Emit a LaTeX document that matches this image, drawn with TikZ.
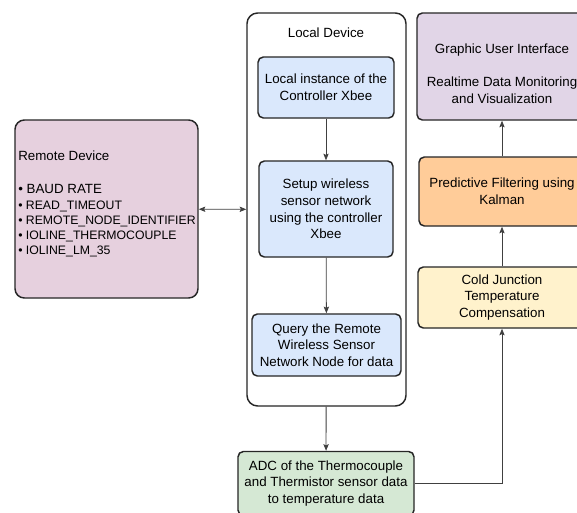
\documentclass[tikz,border=0pt]{standalone}
\usepackage{fontspec}
\setmainfont{Liberation Sans}
\usetikzlibrary{positioning, arrows.meta, calc}

\begin{document}
\begin{tikzpicture}[x=0.75pt, y=-0.75pt,
  font=\fontsize{10}{12.5}\selectfont,
  blk/.style={draw=black!85, line width=1.1pt, rounded corners=4pt, align=center,
    inner sep=0pt},
  flow/.style={draw=black!75, line width=0.6pt, -{Stealth[length=5pt, width=4pt, inset=1pt]}}]

\definecolor{cRemote}{HTML}{E6D0DE}
\definecolor{cLocal}{HTML}{DAE8FC}
\definecolor{cAdc}{HTML}{D5E8D4}
\definecolor{cGui}{HTML}{E1D5E7}
\definecolor{cPred}{HTML}{FFCC99}
\definecolor{cCold}{HTML}{FFF2CC}

\clip (0,0) rectangle (577,512);
\fill[white] (0,0) rectangle (577,512);

% ===== remote device =====
\node[blk, fill=cRemote, rounded corners=7pt, minimum width=183*0.75pt,
  minimum height=178*0.75pt] (remote) at (106.5,209) {};
\node[anchor=north west, align=left, inner sep=0pt] (remtxt) at (18,150.5)
  {Remote Device\\[12.4pt]
   • BAUD RATE\\[-0.4pt]
   {\fontsize{9.2}{11}\selectfont • READ\_TIMEOUT}\\[-1.3pt]
   {\fontsize{9.2}{11}\selectfont • REMOTE\_NODE\_IDENTIFIER}\\[-1.3pt]
   {\fontsize{9.2}{11}\selectfont • IOLINE\_THERMOCOUPLE}\\[-1.3pt]
   {\fontsize{9.2}{11}\selectfont • IOLINE\_LM\_35}};

% ===== local device (container) =====
\node[blk, fill=white, rounded corners=8pt, minimum width=159*0.75pt,
  minimum height=393*0.75pt] (local) at (326.5,209.5) {};
\node (loctitle) at (326,33) {Local Device};

\node[blk, fill=cLocal, minimum width=136*0.75pt, minimum height=61*0.75pt]
  (inst) at (326,87.5) {Local instance of the\\Controller Xbee};
\node[blk, fill=cLocal, minimum width=134*0.75pt, minimum height=96*0.75pt]
  (setup) at (326,209) {Setup wireless\\sensor network\\using the controller\\Xbee};
\node[blk, fill=cLocal, minimum width=149*0.75pt, minimum height=62*0.75pt]
  (query) at (326.5,345) {Query the Remote\\Wireless Sensor\\Network Node for data};

% ===== ADC =====
\node[blk, fill=cAdc, minimum width=176*0.75pt, minimum height=64*0.75pt]
  (adc) at (326,483.5) {ADC of the Thermocouple\\and Thermistor sensor data\\to temperature data};

% ===== right column =====
\node[blk, fill=cCold, minimum width=168*0.75pt, minimum height=61*0.75pt]
  (cold) at (502,297.5) {Cold Junction\\Temperature\\Compensation};
\node[blk, fill=cPred, minimum width=166*0.75pt, minimum height=69*0.75pt]
  (pred) at (502,191.5) {Predictive Filtering using\\Kalman};
\node[blk, fill=cGui, minimum width=170*0.75pt, minimum height=107*0.75pt]
  (gui) at (502,66.5) {};
\node[align=center, inner sep=0pt] (guitxt) at (502,73.5)
  {Graphic User Interface\\[12.5pt]Realtime Data Monitoring\\and Visualization};

% connectors
\draw[flow, {Stealth[length=5pt, width=4pt, inset=1pt]}-{Stealth[length=5pt, width=4pt, inset=1pt]}]
  (remote) -- (local);
\draw[flow] (inst) -- (setup);
\draw[flow] (setup) -- (query);
\draw[flow] (local) -- (adc);
\draw[flow] (adc.east) -| (cold);
\draw[flow] (cold) -- (pred);
\draw[flow] (pred) -- (gui);

\end{tikzpicture}
\end{document}
